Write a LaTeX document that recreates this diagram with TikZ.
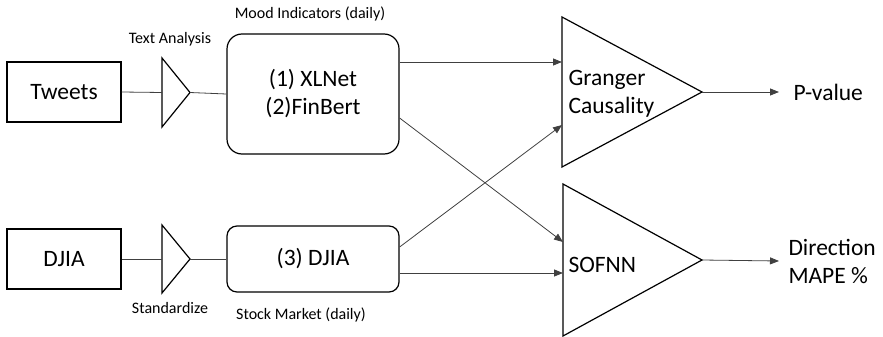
\documentclass[tikz,border=0pt]{standalone}
\usepackage{fontspec}
\setmainfont{Carlito}
\usetikzlibrary{arrows.meta,shapes.geometric,calc}

\tikzset{
  big/.style={font=\fontsize{23.5}{28}\selectfont},
  small/.style={font=\fontsize{16}{19}\selectfont},
  srcbox/.style={draw,line width=1.2pt,minimum width=114pt,minimum height=60pt,big},
  featbox/.style={draw,line width=1.2pt,rounded corners=15pt,minimum width=172pt,big,align=center},
  amp/.style={draw,line width=1.2pt,isosceles triangle,isosceles triangle stretches,
    inner sep=0pt,outer sep=0pt,anchor=lower side},
  link/.style={draw=black!75,line width=0.8pt},
  arr/.style={link,-{Triangle[length=9pt,width=7pt]}}
}

\begin{document}
\begin{tikzpicture}[x=1pt,y=-1pt]
\useasboundingbox (0,0) rectangle (883,337);
% sources
\node[srcbox] (tweets) at (64,92) {Tweets};
\node[srcbox] (djia) at (64,259) {DJIA};
\node[amp,minimum height=28pt,minimum width=69pt] (ta) at (162,92.5) {};
\node[amp,minimum height=28pt,minimum width=68pt] (std) at (162,259) {};
\node[small] (talbl) at (170,39) {Text Analysis};
\node[small] (stdlbl) at (170,308) {Standardize};
% indicators
\node[featbox,minimum height=120pt] (mood) at (313,94) {(1) XLNet\\(2)FinBert};
\node[featbox,rounded corners=10pt,minimum height=66pt] (dji3) at (313,259) {(3) DJIA};
\node[small] (moodlbl) at (310,14) {Mood Indicators (daily)};
\node[small] (stocklbl) at (301,315) {Stock Market (daily)};
% models
\node[amp,minimum height=140pt,minimum width=150pt] (gc) at (562,92) {};
\node[amp,minimum height=139pt,minimum width=152pt] (sofnn) at (563,260) {};
\node[big,anchor=west,align=left] (gctxt) at (565,94) {Granger\\Causality};
\node[big,anchor=west] (sofnntxt) at (565,265) {SOFNN};
\node[big,anchor=west] (pval) at (790,92) {P-value};
\node[big,anchor=west,align=left] (dir) at (785,261) {Direction\\MAPE \%};

\draw[link] (tweets.east) -- (ta.lower side) (ta.apex) -- (mood.west);
\draw[link] (djia.east) -- (std.lower side) (std.apex) -- (dji3.west);
\draw[arr] ($(mood.east)+(0,-32)$) -- ($(gc.lower side)+(0,-30)$);
\draw[arr] ($(mood.east)+(0,24)$) -- ($(sofnn.lower side)+(0,-18)$);
\draw[arr] ($(dji3.east)+(0,-12)$) -- ($(gc.lower side)+(0,33)$);
\draw[arr] ($(dji3.east)+(0,14)$) -- ($(sofnn.lower side)+(0,13)$);
\draw[arr] (gc.apex) -- ([xshift=-11pt]pval.west);
\draw[arr] (sofnn.apex) -- ([xshift=-6pt]dir.west);
\end{tikzpicture}
\end{document}
